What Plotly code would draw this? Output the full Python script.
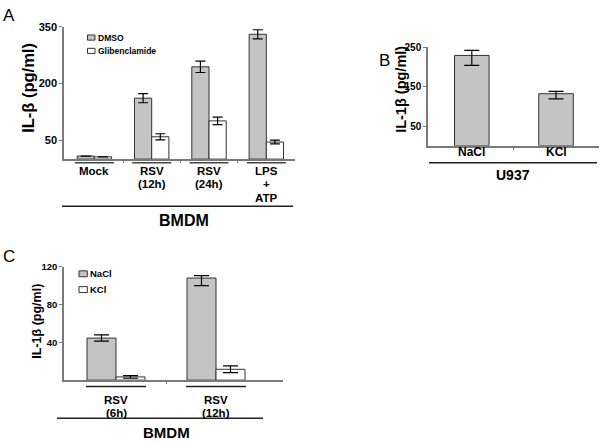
import plotly.graph_objects as go

# ---------------- data ----------------
A_categories = ["Mock", "RSV<br>(12h)", "RSV<br>(24h)", "LPS<br>+<br>ATP"]
A_series = ["DMSO", "Glibenclamide"]
A_dmso = [8, 161, 244, 330]
A_dmso_err = [0, 12, 15, 12]
A_glib = [6, 59, 101, 45]
A_glib_err = [0, 8, 10, 5]
A_ticks = [50, 200, 350]
A_group = "BMDM"

B_categories = ["NaCl", "KCl"]
B_values = [229, 132]
B_err_plus = [13, 6]
B_err_minus = [25, 13]
B_ticks = [50, 150, 250]
B_group = "U937"

C_categories = ["RSV<br>(6h)", "RSV<br>(12h)"]
C_series = ["NaCl", "KCl"]
C_nacl = [44.5, 108]
C_nacl_err_plus = [3.3, 2.5]
C_nacl_err_minus = [3.3, 8]
C_kcl = [3.4, 11.5]
C_kcl_err = [1.4, 3.6]
C_ticks = [40, 80, 120]
C_group = "BMDM"

W, H = 603, 442
def px(x):
    return x / W
def py(y):
    return (H - y) / H

FONT = "Liberation Sans, Arial, sans-serif"
GRAY = "#c4c4c4"
EDGE = "#333333"
AXC = "#7a7a7a"
FILLS = [GRAY, "white"]

fig = go.Figure()

def err(plus, minus=None, w=5):
    d = dict(type="data", array=plus, color="black", thickness=1.2, width=w)
    if minus is not None:
        d.update(symmetric=False, arrayminus=minus)
    return d

# Panel A
fig.add_trace(go.Bar(x=list(range(len(A_categories))), y=A_dmso, name=A_series[0],
                     xaxis="x", yaxis="y", width=0.3, offset=-0.3, showlegend=False,
                     marker=dict(color=FILLS[0], line=dict(color=EDGE, width=1)),
                     error_y=err(A_dmso_err, w=5)))
fig.add_trace(go.Bar(x=list(range(len(A_categories))), y=A_glib, name=A_series[1],
                     xaxis="x", yaxis="y", width=0.3, offset=0, showlegend=False,
                     marker=dict(color=FILLS[1], line=dict(color=EDGE, width=1)),
                     error_y=err(A_glib_err, w=5)))

# Panel B
fig.add_trace(go.Bar(x=list(range(len(B_categories))), y=B_values, name=B_group,
                     xaxis="x2", yaxis="y2", width=0.41, showlegend=False,
                     marker=dict(color=GRAY, line=dict(color=EDGE, width=1)),
                     error_y=err(B_err_plus, B_err_minus, w=7.5)))

# Panel C
fig.add_trace(go.Bar(x=list(range(len(C_categories))), y=C_nacl, name=C_series[0],
                     xaxis="x3", yaxis="y3", width=0.29, offset=-0.29, showlegend=False,
                     marker=dict(color=FILLS[0], line=dict(color=EDGE, width=1)),
                     error_y=err(C_nacl_err_plus, C_nacl_err_minus, w=7.5)))
fig.add_trace(go.Bar(x=list(range(len(C_categories))), y=C_kcl, name=C_series[1],
                     xaxis="x3", yaxis="y3", width=0.29, offset=0, showlegend=False,
                     marker=dict(color=FILLS[1], line=dict(color=EDGE, width=1)),
                     error_y=err(C_kcl_err, w=7.5)))

def xcommon(n):
    return dict(showgrid=False, zeroline=False, showticklabels=False,
                tickvals=[i + 0.5 for i in range(n - 1)], ticks="outside", ticklen=2,
                tickcolor=AXC, showline=True, linecolor=AXC, linewidth=1.5, fixedrange=True)

def ycommon(ticks, size):
    return dict(showgrid=False, zeroline=False, showline=True, linecolor=AXC, linewidth=1.5,
                tickvals=ticks, ticks="outside", ticklen=3, tickcolor=AXC, fixedrange=True,
                tickfont=dict(family=FONT, size=size, color="black", weight="bold"))

annotations = []
shapes = []

def txt(x, y, text, size, xref="paper", bold=True, angle=0, xanchor="center", yanchor="middle"):
    annotations.append(dict(x=x, y=y, xref=xref, yref="paper", text=text, showarrow=False,
                            textangle=angle, xanchor=xanchor, yanchor=yanchor,
                            font=dict(family=FONT, size=size, color="black",
                                      weight="bold" if bold else "normal")))

def hline(x0, x1, y, xref="paper", width=1.5, color="#222222"):
    shapes.append(dict(type="line", xref=xref, yref="paper", x0=x0, x1=x1,
                       y0=py(y), y1=py(y), line=dict(color=color, width=width)))

def box(x0, x1, y0, y1, fill):
    shapes.append(dict(type="rect", xref="paper", yref="paper", x0=px(x0), x1=px(x1),
                       y0=py(y1), y1=py(y0), fillcolor=fill, line=dict(color=EDGE, width=1)))

def cat_label(i, label, xref, y_first, step, size):
    for k, part in enumerate(label.split("<br>")):
        txt(i, py(y_first + k * step), part, size, xref=xref)

# Panel A decorations
for i, c in enumerate(A_categories):
    hline(i - 0.34, i + 0.34, 159, xref="x", width=1.5, color="#444444")
    cat_label(i, c, "x", 167, 13.6, 11.5)
hline(px(62), px(293), 203, width=1.5)
txt(px(184), py(217), A_group, 16)
txt(px(28), py(83), "IL-β (pg/ml)", 16.5, angle=-90)
txt(px(9), py(10), "A", 17, bold=False)
for k, (name, fill) in enumerate(zip(A_series, FILLS)):
    yc = 32 + k * 13.5
    box(87.5, 95, yc - 2.6, yc + 2.6, fill)
    txt(px(96), py(yc), name, 8.5, xanchor="left")

# Panel B decorations
for i, c in enumerate(B_categories):
    cat_label(i, c, "x2", 148.5, 14, 12)
hline(px(429), px(597), 159, width=1.5)
txt(px(513), py(171), B_group, 14)
txt(px(401), py(85), "IL-1β (pg/ml)", 14.5, angle=-90)
txt(px(384), py(55), "B", 17, bold=False)

# Panel C decorations
for i, c in enumerate(C_categories):
    hline(i - 0.3, i + 0.3, 385.7, xref="x3", width=1.5)
    cat_label(i, c, "x3", 399, 13.3, 11.5)
hline(px(57), px(263), 418, width=1.5)
txt(px(166), py(432), C_group, 15)
txt(px(37), py(320), "IL-1β (pg/ml)", 12.5, angle=-90)
txt(px(9), py(254), "C", 17, bold=False)
for k, (name, fill) in enumerate(zip(C_series, FILLS)):
    yc = 271.5 + k * 16
    box(79, 87.3, yc - 3, yc + 3, fill)
    txt(px(88), py(yc), name, 9.5, xanchor="left")

fig.update_layout(
    width=W, height=H, margin=dict(l=0, r=0, t=0, b=0),
    paper_bgcolor="white", plot_bgcolor="white",
    barmode="overlay", showlegend=False,
    xaxis=dict(domain=[px(64), px(295)], range=[-0.53, 3.5], anchor="y", **xcommon(len(A_categories))),
    yaxis=dict(domain=[py(155.2), py(21)], range=[0, 350], anchor="x", **ycommon(A_ticks, 11)),
    xaxis2=dict(domain=[px(428), px(599)], range=[-0.52, 1.51], anchor="y2", **xcommon(len(B_categories))),
    yaxis2=dict(domain=[py(141.7), py(41.7)], range=[0, 250], anchor="x2", **ycommon(B_ticks, 10)),
    xaxis3=dict(domain=[px(64), px(283)], range=[-0.52, 1.67], anchor="y3", **xcommon(len(C_categories))),
    yaxis3=dict(domain=[py(379.3), py(264.3)], range=[0, 120], anchor="x3", **ycommon(C_ticks, 9.5)),
    annotations=annotations,
    shapes=shapes,
)

fig.write_html("out.html", config={"displayModeBar": False},
               post_script="document.body.style.margin='0';document.body.style.padding='0';document.body.style.overflow='hidden';")
